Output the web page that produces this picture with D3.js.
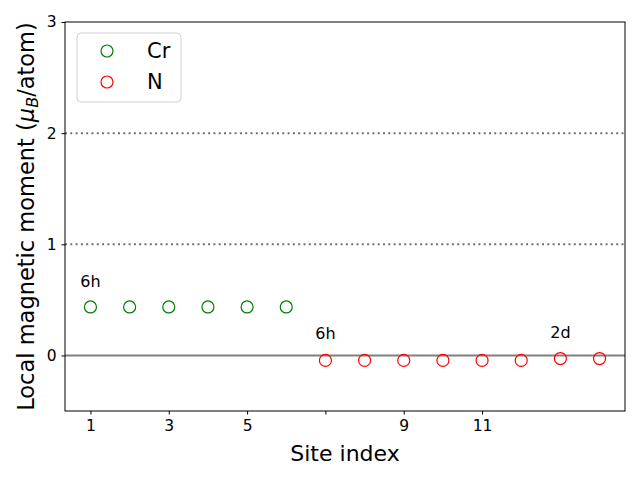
<!DOCTYPE html>
<html>
<head>
<meta charset="utf-8">
<script src="https://cdn.jsdelivr.net/npm/d3@7"></script>
<style>
  body { margin: 0; background: #fff; }
  text { font-family: "DejaVu Sans", sans-serif; }
</style>
</head>
<body>
<div id="chart"></div>
<script>
// --- Daten ---
const crSites = [1, 2, 3, 4, 5, 6];
const crMoments = [0.436, 0.436, 0.436, 0.436, 0.436, 0.436];
const nSites = [7, 8, 9, 10, 11, 12, 13, 14];
const nMoments = [-0.045, -0.045, -0.045, -0.045, -0.045, -0.045, -0.028, -0.028];
const xTicks = [1, 3, 5, 7, 9, 11];
const xTickLabels = ["1", "3", "5", "", "9", "11"];
const yTicks = [0, 1, 2, 3];
const refLines = [1, 2];
const annotations = [
  { x: 1, y: 0.62, label: "6h" },
  { x: 7, y: 0.145, label: "6h" },
  { x: 13, y: 0.16, label: "2d" }
];
const seriesNames = ["Cr", "N"];
const seriesColors = ["green", "red"];

// --- Layout ---
const W = 640, H = 480;
const margin = { top: 22, right: 15, bottom: 69, left: 65 };

const svg = d3.select("#chart").append("svg")
  .attr("width", W).attr("height", H);

const x = d3.scaleLinear().domain([0.35, 14.65]).range([margin.left, W - margin.right]);
const y = d3.scaleLinear().domain([-0.5, 3]).range([H - margin.bottom, margin.top]);

// gepunktete Hilfslinien
svg.selectAll("line.ref").data(refLines).enter().append("line")
  .attr("x1", x.range()[0]).attr("x2", x.range()[1])
  .attr("y1", d => y(d)).attr("y2", d => y(d))
  .attr("stroke", "#707070").attr("stroke-width", 2)
  .attr("stroke-dasharray", "2,3.3");

// Nulllinie
svg.append("line")
  .attr("x1", x.range()[0]).attr("x2", x.range()[1])
  .attr("y1", y(0)).attr("y2", y(0))
  .attr("stroke", "#808080").attr("stroke-width", 2);

// Achsen
const xAxis = svg.append("g")
  .attr("transform", `translate(0,${H - margin.bottom})`)
  .call(d3.axisBottom(x).tickValues(xTicks).tickFormat((d, i) => xTickLabels[i]).tickSize(3.5).tickPadding(5));
const yAxis = svg.append("g")
  .attr("transform", `translate(${margin.left},0)`)
  .call(d3.axisLeft(y).tickValues(yTicks).tickFormat(d3.format("d")).tickSize(3.5).tickPadding(5));
[xAxis, yAxis].forEach(g => {
  g.select(".domain").remove();
  g.selectAll("text").style("font-size", "15.5px").attr("fill", "#000");
  g.selectAll("line").attr("stroke", "#000");
});

// Rahmen
svg.append("rect")
  .attr("x", margin.left).attr("y", margin.top)
  .attr("width", W - margin.left - margin.right)
  .attr("height", H - margin.top - margin.bottom)
  .attr("fill", "none").attr("stroke", "#000").attr("stroke-width", 1);

// Punkte
const series = [
  { xs: crSites, ys: crMoments, color: seriesColors[0] },
  { xs: nSites, ys: nMoments, color: seriesColors[1] }
];
series.forEach(s => {
  svg.append("g").selectAll("circle").data(s.xs).enter().append("circle")
    .attr("cx", d => x(d))
    .attr("cy", (d, i) => y(s.ys[i]))
    .attr("r", 6)
    .attr("fill", "none")
    .attr("stroke", s.color)
    .attr("stroke-width", 1.2);
});

// Beschriftungen
svg.selectAll("text.ann").data(annotations).enter().append("text")
  .attr("class", "ann")
  .attr("x", d => x(d.x)).attr("y", d => y(d.y))
  .attr("text-anchor", "middle")
  .style("font-size", "16px")
  .text(d => d.label);

// Achsentitel
svg.append("text")
  .attr("x", (margin.left + W - margin.right) / 2).attr("y", 461)
  .attr("text-anchor", "middle").style("font-size", "22px")
  .text("Site index");

const yl = svg.append("text")
  .attr("transform", `translate(34,${(margin.top + H - margin.bottom) / 2}) rotate(-90)`)
  .attr("text-anchor", "middle").style("font-size", "22.5px");
yl.append("tspan").text("Local magnetic moment (");
yl.append("tspan").style("font-style", "italic").text("μ");
yl.append("tspan").style("font-style", "italic").style("font-size", "16px").attr("dy", 4).text("B");
yl.append("tspan").attr("dy", -4).text("/atom)");

// Legende
const legend = svg.append("g").attr("transform", "translate(77,33)");
legend.append("rect")
  .attr("width", 104).attr("height", 69)
  .attr("rx", 4).attr("fill", "#fff")
  .attr("stroke", "#d0d0d0").attr("stroke-width", 1);
seriesNames.forEach((name, i) => {
  legend.append("circle")
    .attr("cx", 30).attr("cy", 18 + i * 31).attr("r", 6)
    .attr("fill", "none").attr("stroke", seriesColors[i]).attr("stroke-width", 1.2);
  legend.append("text")
    .attr("x", 70).attr("y", 18 + i * 31 + 7)
    .style("font-size", "21px").text(name);
});
</script>
</body>
</html>
